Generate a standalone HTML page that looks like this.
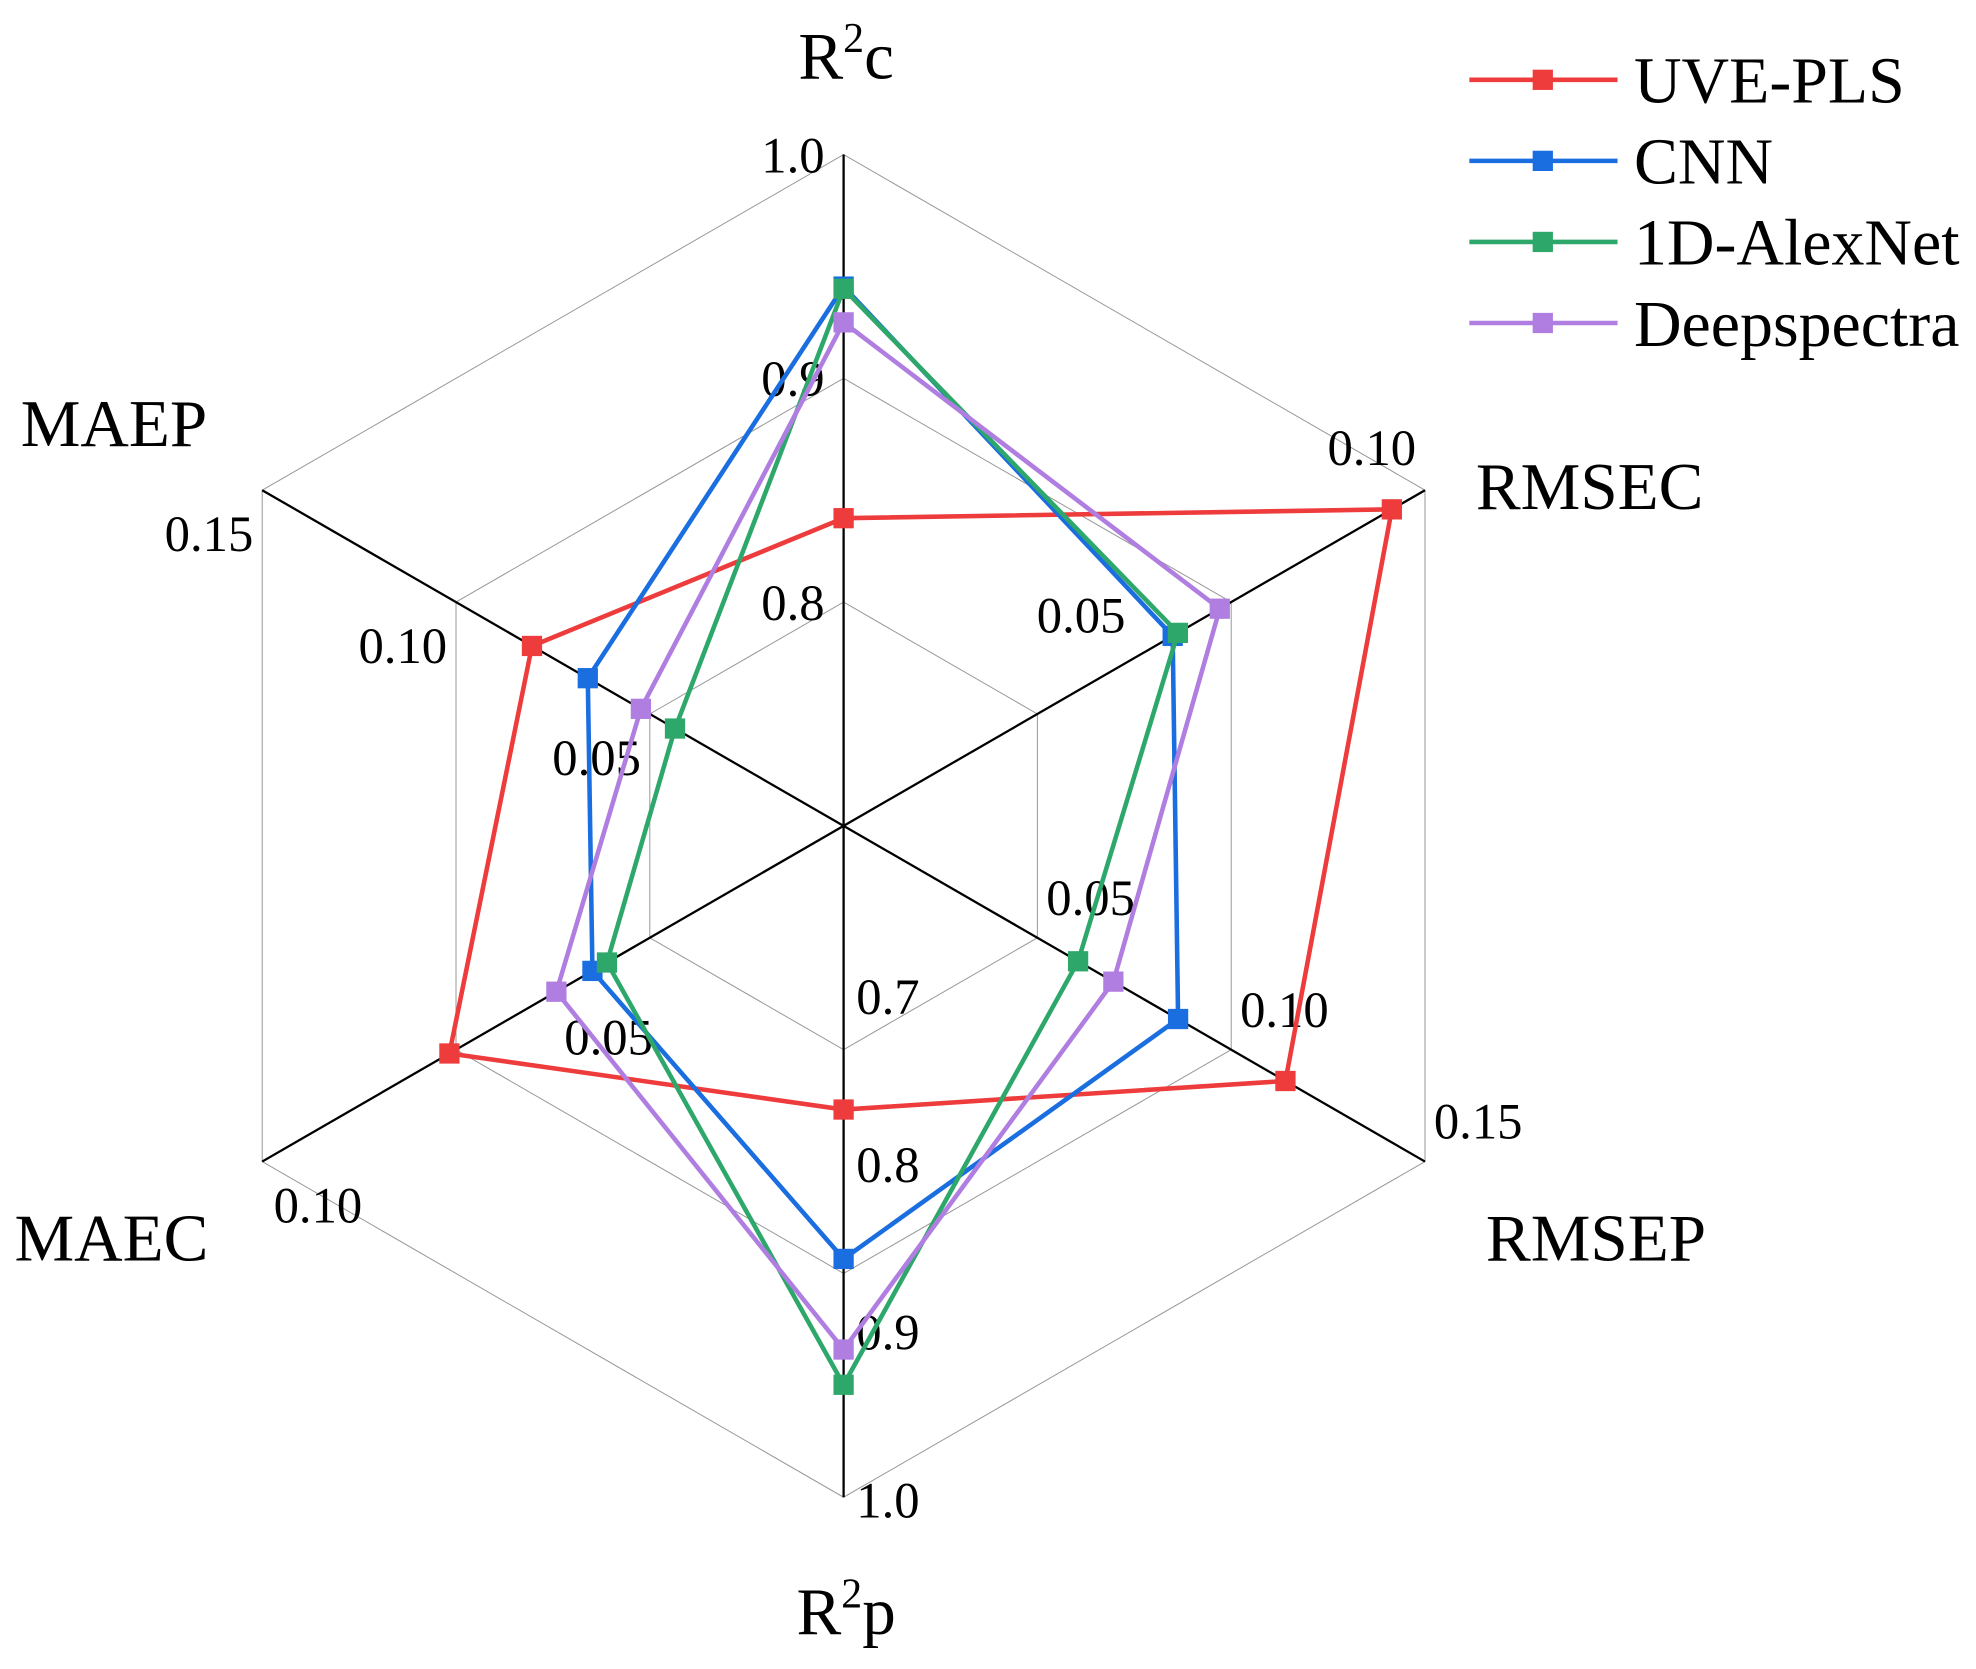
<!DOCTYPE html>
<html><head><meta charset="utf-8"><style>
html,body{margin:0;padding:0;background:#fff}
svg{display:block}
text{font-family:"Liberation Serif",serif;fill:#000}
</style></head><body>
<svg id="chart" width="1976" height="1669" viewBox="0 0 1560 1317.6" preserveAspectRatio="none" xmlns="http://www.w3.org/2000/svg">
<g id="grid"></g>
<g id="axes"></g>
<g id="ticks"></g>
<g id="series"></g>
<g id="catlabels"></g>
<g id="legend"></g>
</svg>
<script>
const categories = ["R2c","RMSEC","RMSEP","R2p","MAEC","MAEP"];
const axisMin = [0.7, 0, 0, 0.6, 0, 0];
const axisMax = [1.0, 0.10, 0.15, 1.0, 0.10, 0.15];
const tickR2c = ["0.8","0.9","1.0"];
const tickRMSEC = ["0.05","0.10"];
const tickRMSEP = ["0.05","0.10","0.15"];
const tickR2p = ["0.7","0.8","0.9","1.0"];
const tickMAEC = ["0.05","0.10"];
const tickMAEP = ["0.05","0.10","0.15"];
const seriesNames = ["UVE-PLS","CNN","1D-AlexNet","Deepspectra"];
const seriesColors = ["#ee3b3b","#1a6ee0","#2ea86a","#b07ee0"];
const uvePls = [0.8375, 0.0943, 0.114, 0.769, 0.0678, 0.0804];
const cnn = [0.941, 0.0566, 0.0863, 0.858, 0.0432, 0.066];
const alexNet = [0.940, 0.0575, 0.0605, 0.933, 0.0407, 0.0435];
const deepSpectra = [0.925, 0.0647, 0.0696, 0.912, 0.0494, 0.0523];

const NS="http://www.w3.org/2000/svg";
const cx=666, cy=652, R=530;
const angles=[90,30,-30,-90,210,150].map(a=>a*Math.PI/180);
function pt(i,r){return [cx+r*Math.cos(angles[i]), cy-r*Math.sin(angles[i])];}
function rOf(i,v){return (v-axisMin[i])/(axisMax[i]-axisMin[i])*R;}
function mk(tag,attrs,parent){const e=document.createElementNS(NS,tag);for(const k in attrs)e.setAttribute(k,attrs[k]);parent.appendChild(e);return e;}

const grid=document.getElementById('grid');
[1/3,2/3,1].forEach((f,k)=>{
  const p=angles.map((a,i)=>pt(i,R*f).join(',')).join(' ');
  const e=mk('polygon',{points:p,fill:'none',stroke:'#999','stroke-width':0.8},grid);
  
  
});
const axesG=document.getElementById('axes');
categories.forEach((c,i)=>{
  const [x,y]=pt(i,R);
  const e=mk('line',{x1:cx,y1:cy,x2:x,y2:y,stroke:'#000','stroke-width':1.8},axesG);
  
  
});
const tickSets=[tickR2c,tickRMSEC,tickRMSEP,tickR2p,tickMAEC,tickMAEP];
const offs=[[-40,0],[-42,-34],[42,-32],[35,2],[44,34],[-42,34]];
const ticksG=document.getElementById('ticks');
tickSets.forEach((ts,i)=>{
  ts.forEach(t=>{
    const v=parseFloat(t);
    const [x,y]=pt(i,rOf(i,v));
    const e=mk('text',{x:x+offs[i][0],y:y+offs[i][1]+14,'font-size':40,'text-anchor':'middle'},ticksG);
    e.textContent=t;
    
    
  });
});
const seriesData=[uvePls,cnn,alexNet,deepSpectra];
const sG=document.getElementById('series');
seriesData.forEach((d,s)=>{
  const pts=d.map((v,i)=>pt(i,rOf(i,v)));
  const g=mk('g',{},sG);
  
  
  const poly=mk('polygon',{points:pts.map(p=>p.join(',')).join(' '),fill:'none',stroke:seriesColors[s],'stroke-width':3.6,'stroke-linejoin':'miter'},g);
  
  
  pts.forEach((p,i)=>{
    const m=mk('rect',{x:p[0]-8,y:p[1]-8,width:16,height:16,fill:seriesColors[s]},g);
    
    
  });
});
const catG=document.getElementById('catlabels');
const catPos=[[668,62],[1255,402],[1260,995],[668,1290],[88,995],[90,352]];
const catSup=["c",null,null,"p",null,null];
categories.forEach((c,i)=>{
  const e=mk('text',{x:catPos[i][0],y:catPos[i][1],'font-size':53,'text-anchor':'middle'},catG);
  if(catSup[i]){
    e.innerHTML='R<tspan dy="-21" font-size="33">2</tspan><tspan dy="21">'+catSup[i]+'</tspan>';
  } else e.textContent=c;
  
  
});
const lg=document.getElementById('legend');
seriesNames.forEach((n,s)=>{
  const y=63+s*64;
  const g=mk('g',{},lg);
  
  
  mk('line',{x1:1160,y1:y,x2:1277,y2:y,stroke:seriesColors[s],'stroke-width':3.6},g);
  mk('rect',{x:1210,y:y-8,width:16,height:16,fill:seriesColors[s]},g);
  const t=mk('text',{x:1290,y:y+18,'font-size':52},g);
  t.textContent=n;
});
</script>
</body></html>
